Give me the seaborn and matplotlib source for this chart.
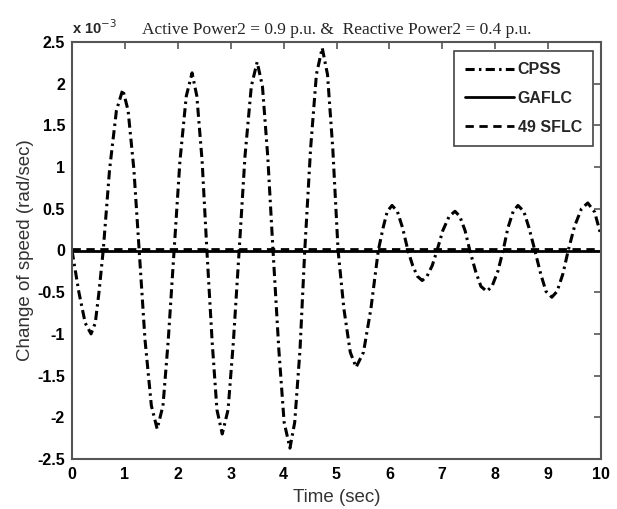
import matplotlib
matplotlib.use("Agg")
import matplotlib.pyplot as plt
import seaborn as sns
import numpy as np

# ---- data (speed deviation in units of 1e-3 rad/sec) ----
cpss_t = [0.00, 0.13, 0.25, 0.36, 0.44, 0.51, 0.59,
          0.71, 0.84, 0.96, 1.06, 1.17, 1.27,
          1.38, 1.50, 1.61, 1.72, 1.82, 1.93,
          2.04, 2.16, 2.27, 2.36, 2.46, 2.55,
          2.65, 2.74, 2.84, 2.95, 3.05, 3.16,
          3.27, 3.39, 3.50, 3.60, 3.70, 3.80,
          3.91, 4.01, 4.12, 4.21, 4.31, 4.40,
          4.51, 4.62, 4.73, 4.83, 4.93, 5.03,
          5.14, 5.26, 5.37, 5.51, 5.65, 5.79,
          5.88, 5.96, 6.05, 6.15, 6.25, 6.35,
          6.44, 6.53, 6.62, 6.71, 6.81, 6.90,
          7.01, 7.13, 7.24, 7.33, 7.43, 7.52,
          7.63, 7.73, 7.84, 7.94, 8.05, 8.15,
          8.24, 8.34, 8.43, 8.54, 8.64, 8.75,
          8.86, 8.96, 9.07, 9.17, 9.28, 9.38,
          9.50, 9.63, 9.75, 9.88, 10.00]
cpss_v = [0.00, -0.50, -0.87, -1.00, -0.87, -0.50, 0.00,
          0.97, 1.68, 1.93, 1.68, 0.97, 0.00,
          -1.07, -1.86, -2.14, -1.86, -1.07, 0.00,
          1.07, 1.85, 2.13, 1.85, 1.07, 0.00,
          -1.10, -1.91, -2.20, -1.91, -1.10, 0.00,
          1.13, 1.97, 2.26, 1.97, 1.13, 0.00,
          -1.19, -2.06, -2.37, -2.06, -1.19, 0.00,
          1.22, 2.11, 2.43, 2.11, 1.22, 0.00,
          -0.70, -1.22, -1.40, -1.22, -0.70, 0.00,
          0.27, 0.47, 0.54, 0.47, 0.27, 0.00,
          -0.18, -0.31, -0.36, -0.31, -0.18, 0.00,
          0.24, 0.41, 0.47, 0.41, 0.24, 0.00,
          -0.25, -0.43, -0.49, -0.43, -0.25, 0.00,
          0.27, 0.47, 0.54, 0.47, 0.27, 0.00,
          -0.28, -0.49, -0.56, -0.49, -0.28, 0.00,
          0.29, 0.50, 0.57, 0.46, 0.18]
gaflc_t = [0.0, 10.0]
gaflc_v = [0.0, 0.0]
sflc_t = [0.0, 10.0]
sflc_v = [0.015, 0.015]

x_ticks = [0, 1, 2, 3, 4, 5, 6, 7, 8, 9, 10]
y_ticks = [-2.5, -2, -1.5, -1, -0.5, 0, 0.5, 1, 1.5, 2, 2.5]
y_tick_labels = ["-2.5", "-2", "-1.5", "-1", "-0.5", "0", "0.5", "1", "1.5", "2", "2.5"]
labels = ["CPSS", "GAFLC", "49 SFLC"]

sns.set_theme(style="white")
plt.rcParams["font.family"] = ["Liberation Sans", "DejaVu Sans"]

fig = plt.figure(figsize=(6.17, 5.09), dpi=100)
ax = fig.add_axes([72/617, 50/509, 529/617, 417/509])

sns.lineplot(x=cpss_t, y=cpss_v, ax=ax, color="black", lw=2.2,
             label=labels[0], dashes=False)
ax.lines[-1].set_dashes((3.0, 1.4, 0.8, 1.4))
sns.lineplot(x=gaflc_t, y=gaflc_v, ax=ax, color="black", lw=2.0, label=labels[1])
sns.lineplot(x=sflc_t, y=sflc_v, ax=ax, color="black", lw=2.0, label=labels[2])
ax.lines[-1].set_dashes((3.0, 2.0))

ax.set_xlim(0, 10)
ax.set_ylim(-2.5, 2.5)
ax.set_xticks(x_ticks)
ax.set_xticklabels([str(v) for v in x_ticks])
ax.set_yticks(y_ticks)
ax.set_yticklabels(y_tick_labels)

for s in ax.spines.values():
    s.set_color("#555555")
    s.set_linewidth(1.5)
    s.set_visible(True)
ax.tick_params(direction="in", top=True, right=True, length=5, width=1.2,
               color="#555555", labelsize=11.5, labelcolor="black")
ax.tick_params(axis="x", pad=6)
ax.tick_params(axis="y", pad=5)
for lab in ax.get_xticklabels() + ax.get_yticklabels():
    lab.set_fontweight("bold")

ax.set_xlabel("Time (sec)", fontsize=13.5, color="#333333", labelpad=5)
ax.set_ylabel("Change of speed (rad/sec)", fontsize=13.5, color="#333333", labelpad=2)

ax.text(0.0, 1.012, r"x 10$^{-3}$", transform=ax.transAxes, fontsize=10.5,
        fontweight="bold", ha="left", va="bottom")
ax.set_title("Active Power2 = 0.9 p.u. &  Reactive Power2 = 0.4 p.u.",
             fontsize=12.5, family=["Liberation Serif", "DejaVu Serif"], pad=6)

leg = ax.legend(loc="upper right", bbox_to_anchor=(0.985, 0.978), borderaxespad=0,
                fancybox=False, frameon=True, edgecolor="#444444", framealpha=1,
                prop={"weight": "bold", "size": 11.5}, handlelength=3.1,
                handletextpad=0.2, labelspacing=0.85, borderpad=0.7)
leg.get_frame().set_linewidth(1.2)

fig.savefig("out.png", dpi=100)
